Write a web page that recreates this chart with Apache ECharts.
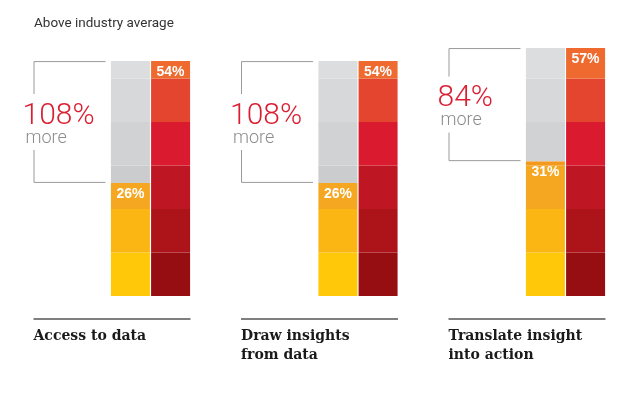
<!DOCTYPE html>
<html>
<head>
<meta charset="utf-8">
<script src="https://cdn.jsdelivr.net/npm/echarts@6/dist/echarts.min.js"></script>
<style>
  html, body { margin: 0; padding: 0; background: #fff; }
  #main { width: 638px; height: 398px; }
</style>
</head>
<body>
<div id="main"></div>
<script>
// data
var categories = ['Access to data', 'Draw insights\nfrom data', 'Translate insight\ninto action'];
var leaders = [54, 54, 57];        // right column
var others = [26, 26, 31];         // left column (coloured part)
var moreLabels = ['108%', '108%', '84%'];
var bandEdges = [0, 10, 20, 30, 40, 50, 60];

// band colours, bottom to top
var leaderColors = ['#960E12', '#AD1419', '#BE1622', '#D91A2F', '#E4452F', '#EE6A2E'];
var otherColors = ['#FFC90A', '#FCB614', '#F6A722', '#F39A1E', '#F39A1E', '#F39A1E'];
var greyColors = ['#C6C7C9', '#C6C7C9', '#CBCCCE', '#D1D2D4', '#D7D8DA', '#DCDDDF'];

var chart = echarts.init(document.getElementById('main'), null, { renderer: 'canvas' });

function part(top, from, lo, hi) {
  // how much of band [lo, hi) lies between 'from' and 'top'
  var a = Math.max(from, lo), b = Math.min(top, hi);
  return Math.max(0, b - a);
}

var series = [];
// left column: coloured part then grey rest, band by band
for (var k = 0; k < bandEdges.length - 1; k++) {
  var lo = bandEdges[k], hi = bandEdges[k + 1];
  series.push({
    type: 'bar', stack: 'others', barWidth: 39, barGap: '3%',
    itemStyle: { color: otherColors[k] },
    data: others.map(function (v) { return part(v, 0, lo, hi); })
  });
  series.push({
    type: 'bar', stack: 'others', barWidth: 39, barGap: '3%',
    itemStyle: { color: greyColors[k] },
    data: others.map(function (v, i) { return part(leaders[i], v, lo, hi); })
  });
}
// right column
for (var k = 0; k < bandEdges.length - 1; k++) {
  var lo2 = bandEdges[k], hi2 = bandEdges[k + 1];
  series.push({
    type: 'bar', stack: 'leaders', barWidth: 39, barGap: '3%',
    itemStyle: { color: leaderColors[k] },
    data: leaders.map(function (v) { return part(v, 0, lo2, hi2); })
  });
}

// brackets, big numbers, bar labels, bottom captions
series.push({
  type: 'custom',
  silent: true,
  z: 10,
  data: leaders.map(function (v, i) { return [i, v, others[i]]; }),
  renderItem: function (params, api) {
    var i = api.value(0);
    var top = api.coord([i, api.value(1)]);
    var mid0 = api.coord([i, api.value(2)]);
    var base = api.coord([i, 0]);
    var cx = top[0], yT = top[1], yO = mid0[1], yB = base[1];
    var xl = cx - 117, xr = cx - 45;
    var mid = (yT + yO) / 2;
    var lineStyle = { stroke: '#9A9A9A', lineWidth: 1, fill: null };
    return {
      type: 'group',
      children: [
        { type: 'polyline', shape: { points: [[xr, yT + 0.5], [xl + 0.5, yT + 0.5], [xl + 0.5, mid - 28]] }, style: lineStyle },
        { type: 'polyline', shape: { points: [[xl + 0.5, mid + 28], [xl + 0.5, yO - 0.5], [xr, yO - 0.5]] }, style: lineStyle },
        { type: 'text', x: cx - 128, y: mid - 6, style: {
            text: moreLabels[i], fill: '#DA1F33', font: '300 30px Roboto, sans-serif',
            align: 'left', verticalAlign: 'middle' } },
        { type: 'text', x: cx - 125, y: mid + 16, style: {
            text: 'more', fill: '#8C8C8C', font: '300 18px Roboto, sans-serif',
            align: 'left', verticalAlign: 'middle' } },
        { type: 'text', x: cx + 20, y: yT + 11, style: {
            text: api.value(1) + '%', fill: '#fff', font: 'bold 14px "Liberation Sans", sans-serif',
            align: 'center', verticalAlign: 'middle' } },
        { type: 'text', x: cx - 20, y: yO + 11, style: {
            text: api.value(2) + '%', fill: '#fff', font: 'bold 14px "Liberation Sans", sans-serif',
            align: 'center', verticalAlign: 'middle' } },
        { type: 'line', shape: { x1: xl, y1: yB + 23, x2: cx + 40, y2: yB + 23 },
          style: { stroke: '#555', lineWidth: 1.5 } },
        { type: 'text', x: xl, y: yB + 31, style: {
            text: categories[i], fill: '#1a1a1a', font: 'bold 14px "DejaVu Serif", serif',
            align: 'left', verticalAlign: 'top', lineHeight: 19 } }
      ]
    };
  }
});

var option = {
  animation: false,
  title: {
    text: 'Above industry average',
    left: 29, top: 12,
    textStyle: { fontSize: 13.5, fontWeight: 'normal', color: '#333', fontFamily: 'Roboto, sans-serif' }
  },
  // categories sit on the ticks, 207.5px apart
  grid: { left: 150.5, right: 72.5, top: 35, bottom: 102 },
  xAxis: {
    type: 'category', data: categories, boundaryGap: false, show: false
  },
  yAxis: {
    type: 'value', min: 0, max: 60, show: false, splitLine: { show: false }
  },
  series: series
};

chart.setOption(option);
</script>
</body>
</html>
